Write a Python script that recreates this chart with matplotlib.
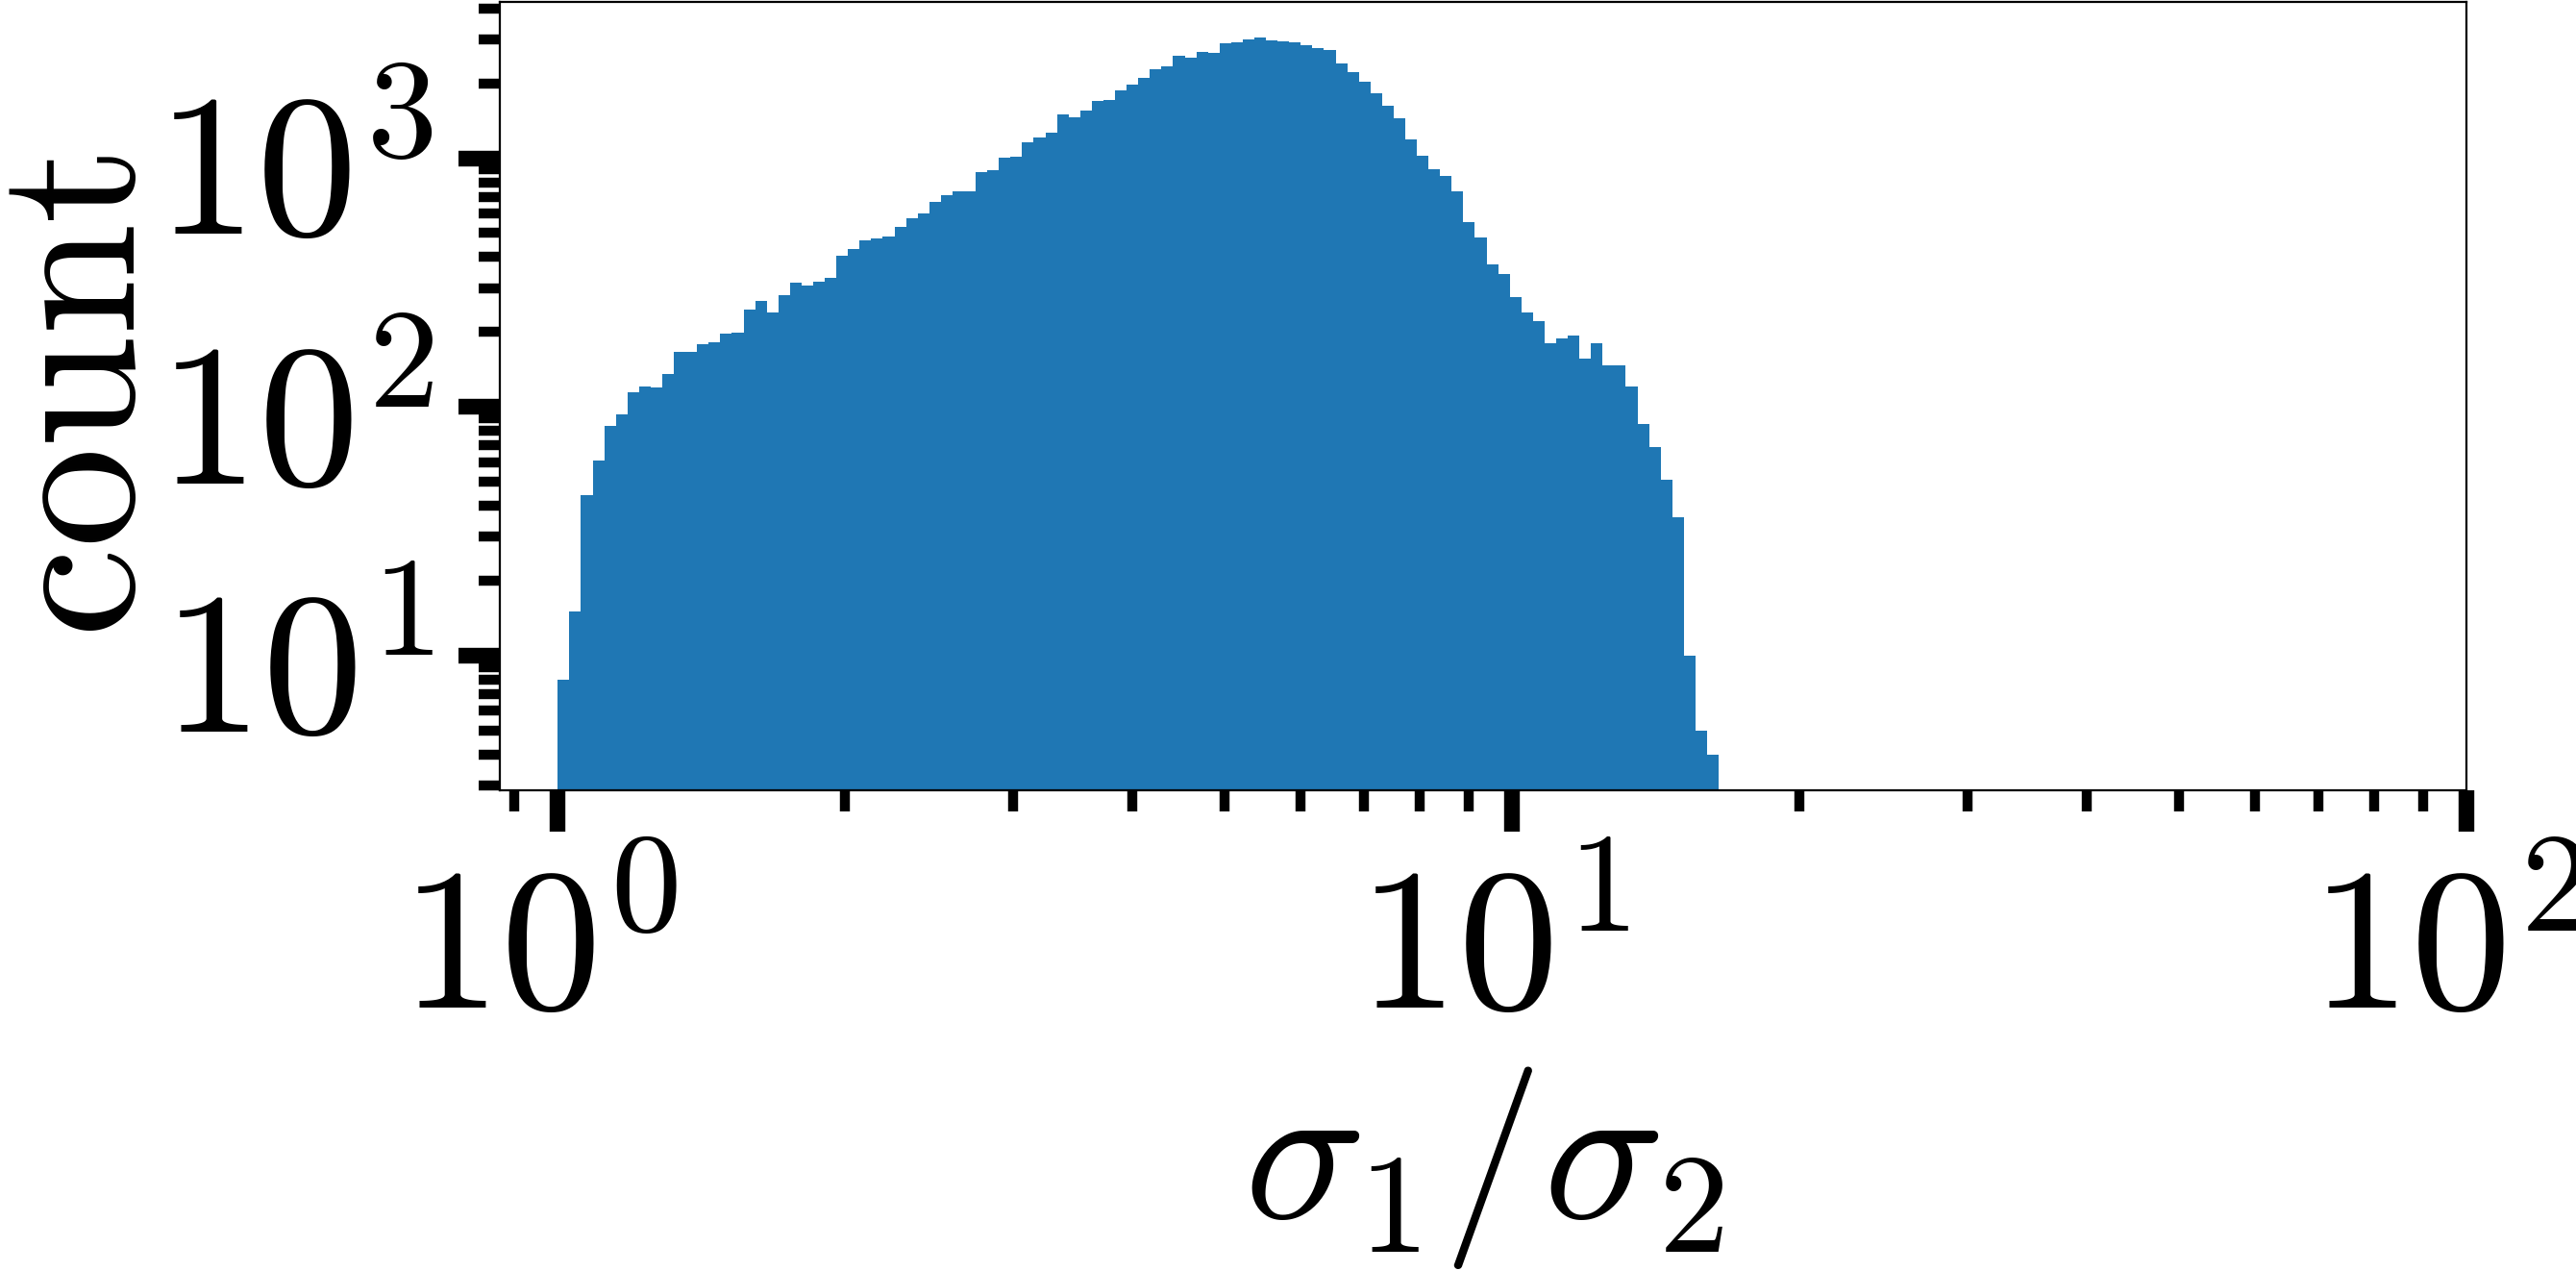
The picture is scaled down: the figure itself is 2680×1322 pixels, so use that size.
import numpy as np
import matplotlib
matplotlib.use("Agg")
import matplotlib.pyplot as plt
from matplotlib import ticker
from matplotlib.transforms import ScaledTranslation

plt.rcParams['mathtext.fontset'] = 'cm'
plt.rcParams['font.family'] = ['DejaVu Sans']

# histogram of sigma1/sigma2: 100 log-spaced bins from 1 to ~16.46
bin_lo = 1.0
bin_hi = 16.46
n_bins = 100

counts = [
    8, 15, 44, 61, 84, 93, 114, 121, 120, 135,
    166, 166, 179, 182, 197, 199, 246, 266, 239, 281,
    316, 307, 318, 330, 405, 431, 467, 475, 484, 529,
    573, 599, 666, 709, 734, 734, 877, 893, 1003, 1012,
    1156, 1208, 1263, 1496, 1457, 1550, 1694, 1709, 1868, 1970,
    2097, 2272, 2333, 2573, 2528, 2667, 2642, 2888, 2914, 2993,
    3047, 2966, 2940, 2914, 2837, 2762, 2714, 2396, 2212, 2024,
    1819, 1621, 1444, 1187, 1021, 901, 847, 735, 553, 480,
    374, 342, 276, 240, 221, 180, 188, 194, 156, 180,
    147, 147, 121, 85, 69, 51, 36, 10, 5, 4,
]

x_major = [1, 10, 100]
y_major = [10, 100, 1000]

edges = np.logspace(np.log10(bin_lo), np.log10(bin_hi), n_bins + 1)
counts = np.array(counts, dtype=float)

fs = 151  # everything is huge in this figure

fig = plt.figure(figsize=(26.8, 13.22), dpi=100)
ax = fig.add_axes([0.1940, 0.3782, 0.7635, 0.6203])

ax.stairs(counts, edges, fill=True, baseline=1, color='#1f77b4', linewidth=0)

ax.set_xscale('log')
ax.set_yscale('log')
ax.set_xlim(10 ** (-0.0608), 100)
ax.set_ylim(2.87, 4250)

def pow_label(v, pos):
    return r'$10^{%d}$' % int(round(np.log10(v)))

ax.xaxis.set_major_locator(ticker.FixedLocator(x_major))
ax.yaxis.set_major_locator(ticker.FixedLocator(y_major))
ax.xaxis.set_major_formatter(ticker.FuncFormatter(pow_label))
ax.yaxis.set_major_formatter(ticker.FuncFormatter(pow_label))
ax.xaxis.set_minor_locator(ticker.LogLocator(base=10, subs=np.arange(2, 10), numticks=20))
ax.yaxis.set_minor_locator(ticker.LogLocator(base=10, subs=np.arange(2, 10), numticks=20))
ax.xaxis.set_minor_formatter(ticker.NullFormatter())
ax.yaxis.set_minor_formatter(ticker.NullFormatter())

ax.tick_params(which='major', length=31, width=11.8, labelsize=fs)
ax.tick_params(which='minor', length=15.6, width=7.5)
ax.tick_params(axis='x', which='major', pad=17)
ax.tick_params(axis='y', which='major', pad=19)

# nudge x tick labels a little to the left, like the original
shift = ScaledTranslation(-0.2, 0, fig.dpi_scale_trans)
for lab in ax.get_xticklabels():
    lab.set_transform(lab.get_transform() + shift)

for sp in ax.spines.values():
    sp.set_linewidth(1.6)

ax.set_xlabel(r'$\sigma_1/\sigma_2$', fontsize=fs, labelpad=10)
ax.set_ylabel(r'$\mathrm{count}$', fontsize=fs, labelpad=-16)

fig.savefig('out.png', dpi=100)
